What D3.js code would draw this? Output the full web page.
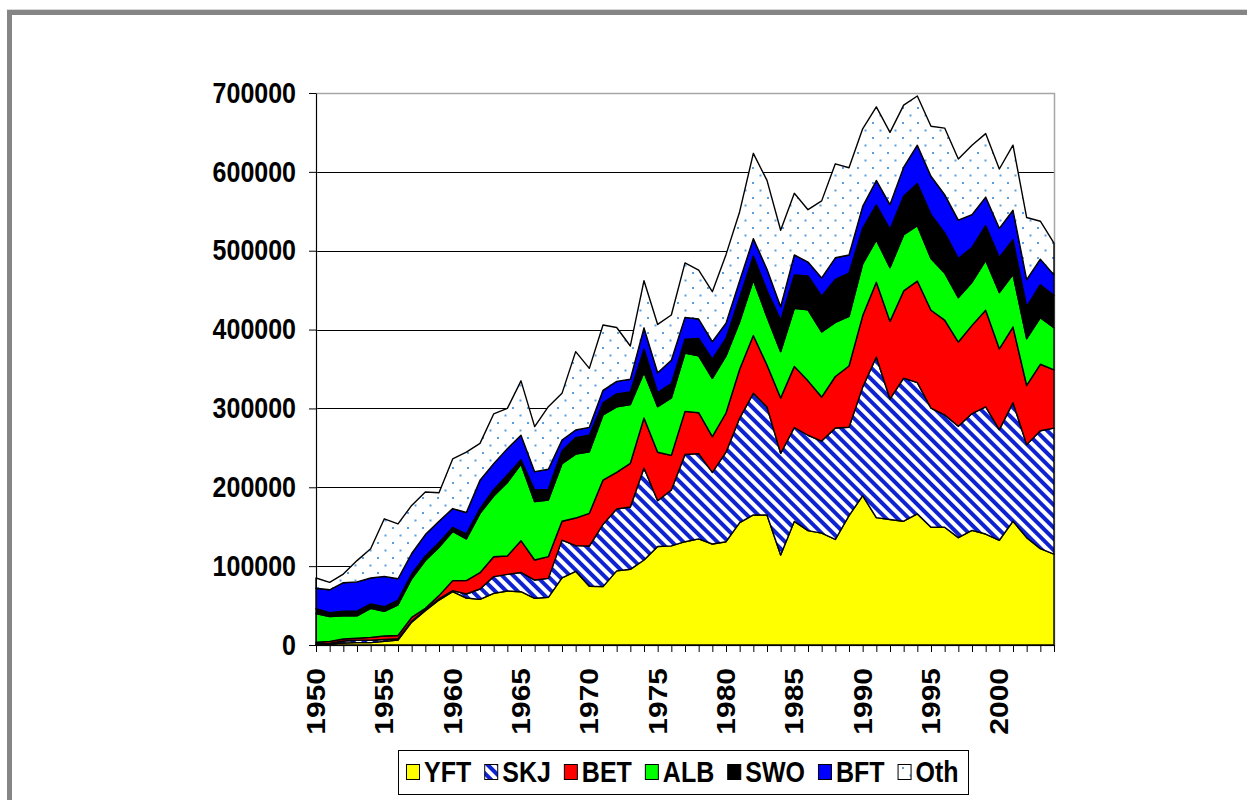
<!DOCTYPE html>
<html>
<head>
<meta charset="utf-8">
<script src="https://cdn.jsdelivr.net/npm/d3@7"></script>
<style>
  body { margin: 0; background: #fff; }
  svg text { font-family: "Liberation Sans", Arial, sans-serif; font-weight: bold; fill: #000; }
</style>
</head>
<body>
<div id="chart"></div>
<script>
// catch by species, 1950-2004
var years = [1950,1951,1952,1953,1954,1955,1956,1957,1958,1959,
             1960,1961,1962,1963,1964,1965,1966,1967,1968,1969,
             1970,1971,1972,1973,1974,1975,1976,1977,1978,1979,
             1980,1981,1982,1983,1984,1985,1986,1987,1988,1989,
             1990,1991,1992,1993,1994,1995,1996,1997,1998,1999,
             2000,2001,2002,2003,2004];

var yft = [1000,1500,2500,3000,3000,4600,6300,29000,43500,57000,
           67700,59600,57900,65500,68500,67600,59200,60400,85000,93500,
           74500,74000,94000,96000,107800,125000,125700,131000,134500,128100,
           131000,155100,164900,164900,114100,156800,145000,141800,133800,164000,
           189300,161500,159200,157000,166200,149300,149300,136100,145400,140700,
           132800,157000,136100,122200,115200];

var skj = [500,800,2500,3000,3000,2400,1700,1500,1000,1500,
           1300,5100,13100,21200,21100,24400,23200,24100,48000,32500,
           51000,79000,78500,79000,116700,58000,70800,110500,108200,90700,
           113500,132700,154200,136900,129000,119000,121000,116800,141400,112100,
           137700,203700,152800,181400,166600,151100,142500,141200,148100,161300,
           140300,150300,118000,149500,159800];

var bet = [2000,2300,2600,2500,3700,4400,4000,4500,2000,4100,
           12600,16900,20700,25300,23300,40300,25400,27500,24000,35000,
           41500,56200,46500,55400,63500,61500,44000,54800,51900,45400,
           49700,61900,73300,53200,70100,77500,69000,55800,65300,77700,
           90400,94900,98400,110600,128700,124100,120200,106900,111800,122500,
           102500,95900,75000,84300,74000];

var alb = [36500,31400,29400,28500,36800,31300,39000,49000,60500,61400,
           62400,52900,75300,77000,93100,97200,74000,71900,73000,81000,
           78000,82500,83000,74600,57500,57700,72800,74000,72000,74000,
           72400,60300,70500,61000,58800,73600,90000,82600,68700,62800,
           65900,53700,68200,71300,70400,65700,59700,56300,54800,63400,
           71400,66900,59300,59200,53300];

var swo = [6000,5000,6000,6000,5500,5800,6000,6000,6000,6000,
           5000,6500,6000,8000,9600,5500,14700,13500,16000,21000,
           21000,15300,16500,16000,30000,17800,18200,17500,22300,24200,
           22300,30600,30400,33500,40000,42300,43000,45400,54300,55100,
           45100,44200,48700,48700,53200,55600,50900,49700,44000,44000,
           44400,43800,40700,41700,40700];

var bft = [26000,29000,36000,37000,33000,38500,27000,26000,27000,27000,
           24000,27000,36000,33000,33400,31000,23300,25400,14000,9600,
           10000,16000,15800,16000,26700,25300,29700,27700,24500,22300,
           19100,21200,22000,27100,17000,25400,17600,23200,27500,22800,
           27900,31100,31200,37000,48700,48600,48600,48600,41700,36100,
           37000,37400,34300,32400,26400];

var oth = [13000,9500,11000,27000,37000,73000,69500,61000,54000,36000,
           63000,76500,46700,63000,51000,69000,57100,79400,59100,99400,
           74800,82800,68300,42200,59800,61200,57300,69000,62100,63400,
           87000,87700,108200,112600,97000,78200,66400,97600,119200,110700,
           98300,93300,91500,78700,62400,63400,84300,77400,88000,80500,
           75200,82500,78700,48100,40300];

var keys = ["YFT", "SKJ", "BET", "ALB", "SWO", "BFT", "Oth"];
var yTicks = [0, 100000, 200000, 300000, 400000, 500000, 600000, 700000];
var labelYears = [1950, 1955, 1960, 1965, 1970, 1975, 1980, 1985, 1990, 1995, 2000];

var width = 1247, height = 800;
var margin = {top: 93, right: 193, bottom: 155, left: 316};
var plotW = width - margin.left - margin.right,
    plotH = height - margin.top - margin.bottom;

var svg = d3.select("#chart").append("svg")
    .attr("width", width)
    .attr("height", height);

// grey frame round the whole picture
svg.append("rect").attr("x", 7).attr("y", 9).attr("width", width).attr("height", 1).attr("fill", "#d8d8d8");
svg.append("rect").attr("x", 7).attr("y", 10).attr("width", width).attr("height", 5).attr("fill", "#858585");
svg.append("rect").attr("x", 7).attr("y", 10).attr("width", 5).attr("height", height).attr("fill", "#858585");

// patterns
var defs = svg.append("defs");

// SKJ: blue "\" stripes on white
var skjPat = defs.append("pattern")
    .attr("id", "skj")
    .attr("patternUnits", "userSpaceOnUse")
    .attr("width", 8).attr("height", 8)
    .attr("patternTransform", "rotate(-45)");
skjPat.append("rect").attr("width", 8).attr("height", 8).attr("fill", "#fff");
skjPat.append("rect").attr("x", 2).attr("width", 4).attr("height", 8).attr("fill", "#0f22d0");

// Oth: sparse light blue dots on white
var othPat = defs.append("pattern")
    .attr("id", "oth")
    .attr("patternUnits", "userSpaceOnUse")
    .attr("width", 15).attr("height", 15);
othPat.append("rect").attr("width", 15).attr("height", 15).attr("fill", "#fff");
othPat.append("rect").attr("x", 2).attr("y", 2).attr("width", 2).attr("height", 2).attr("fill", "#5a9ee2");
othPat.append("rect").attr("x", 9.5).attr("y", 9.5).attr("width", 2).attr("height", 2).attr("fill", "#5a9ee2");

var fills = {
  YFT: "#ffff00",
  SKJ: "url(#skj)",
  BET: "#ff0000",
  ALB: "#00ff00",
  SWO: "#000000",
  BFT: "#0000ff",
  Oth: "url(#oth)"
};

// scales
var x = d3.scaleLinear()
    .domain([1950, 2004])
    .range([margin.left, margin.left + plotW]);

var y = d3.scaleLinear()
    .domain([0, 700000])
    .range([margin.top + plotH, margin.top]);

// gridlines + plot border
svg.append("g")
  .selectAll("line")
  .data(yTicks.slice(1, -1))
  .join("line")
    .attr("x1", margin.left).attr("x2", margin.left + plotW)
    .attr("y1", function(d) { return Math.round(y(d)) + 0.5; })
    .attr("y2", function(d) { return Math.round(y(d)) + 0.5; })
    .attr("stroke", "#000")
    .attr("stroke-width", 1);

svg.append("rect")
    .attr("x", margin.left + 0.5).attr("y", margin.top + 0.5)
    .attr("width", plotW).attr("height", plotH)
    .attr("fill", "none")
    .attr("stroke", "#a6a6a6")
    .attr("stroke-width", 1.5);

// build rows for the stack
var rows = years.map(function(yr, i) {
  return {year: yr, YFT: yft[i], SKJ: skj[i], BET: bet[i], ALB: alb[i], SWO: swo[i], BFT: bft[i], Oth: oth[i]};
});

var series = d3.stack().keys(keys)(rows);

var area = d3.area()
    .x(function(d) { return x(d.data.year); })
    .y0(function(d) { return y(d[0]); })
    .y1(function(d) { return y(d[1]); });

svg.append("g")
  .selectAll("path")
  .data(series)
  .join("path")
    .attr("d", area)
    .attr("fill", function(d) { return fills[d.key]; })
    .attr("stroke", "#000")
    .attr("stroke-width", 1.4)
    .attr("stroke-linejoin", "round");

// y axis
var yAxis = svg.append("g")
    .attr("transform", "translate(" + margin.left + ",0)")
    .call(d3.axisLeft(y)
      .tickValues(yTicks)
      .tickSize(7)
      .tickSizeOuter(0)
      .tickPadding(13)
      .tickFormat(d3.format("d")));
yAxis.attr("font-family", null).attr("font-size", 25);
yAxis.selectAll("text").attr("fill", "#000").attr("transform", "scale(1,1.15)");
yAxis.selectAll("line, path").attr("stroke", "#000");

// x axis, one tick per year
var xAxis = svg.append("g")
    .attr("transform", "translate(0," + (margin.top + plotH) + ")")
    .call(d3.axisBottom(x)
      .tickValues(years)
      .tickSize(7)
      .tickSizeOuter(0)
      .tickFormat(""));
xAxis.selectAll("line, path").attr("stroke", "#000");

// rotated year labels
svg.append("g")
  .selectAll("text")
  .data(labelYears)
  .join("text")
    .attr("transform", function(d) { return "translate(" + x(d) + ",668) rotate(-90) scale(1.2,1)"; })
    .attr("text-anchor", "end")
    .attr("dy", "0.36em")
    .attr("font-size", 25)
    .text(function(d) { return d; });

// legend
var legend = svg.append("g");
legend.append("rect")
    .attr("x", 398.5).attr("y", 750.5)
    .attr("width", 570).attr("height", 44)
    .attr("fill", "#fff")
    .attr("stroke", "#000");

var lx = 406;
keys.forEach(function(k) {
  legend.append("rect")
      .attr("x", lx + 0.5).attr("y", 764.5)
      .attr("width", 13).attr("height", 15)
      .attr("fill", fills[k])
      .attr("stroke", "#000");
  var t = legend.append("text")
      .attr("transform", "translate(" + (lx + 18) + ",782) scale(1,1.15)")
      .attr("font-size", 25)
      .text(k);
  lx += 18 + t.node().getComputedTextLength() + 13;
});
</script>
</body>
</html>
